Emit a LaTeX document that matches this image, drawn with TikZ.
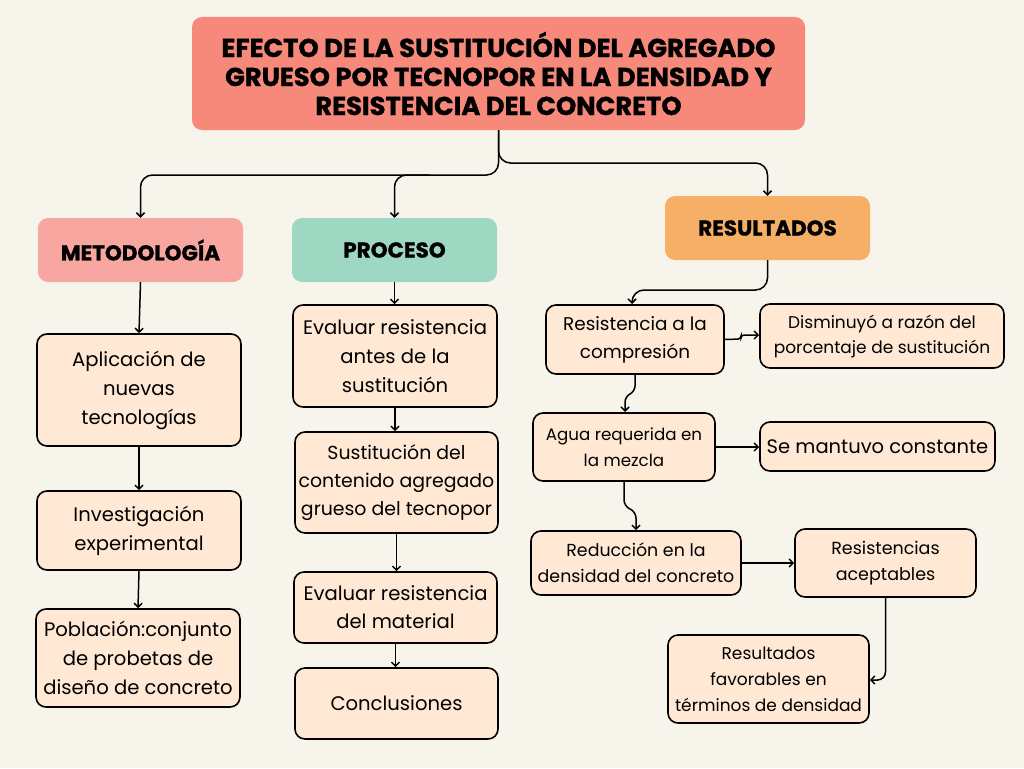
\documentclass[tikz,border=0pt]{standalone}
\usepackage{fontspec}
\setmainfont{Poppins}
\newfontfamily\heavyfont{Poppins}[BoldFeatures={FakeBold=1.2}]
\usetikzlibrary{arrows.meta}
\definecolor{bg}{HTML}{F7F4EC}
\definecolor{titlec}{HTML}{F6897A}
\definecolor{metc}{HTML}{F7A6A0}
\definecolor{proc}{HTML}{9ED8C3}
\definecolor{resc}{HTML}{F6AF67}
\definecolor{boxc}{HTML}{FFE8D4}
\tikzset{
  box/.style={draw=black, line width=1.6pt, fill=boxc, rounded corners=10pt, align=center, inner sep=1pt, font=\fontsize{19.6}{29}\selectfont},
  head/.style={rounded corners=10pt, align=center, font=\fontsize{21.5}{24}\selectfont\heavyfont\bfseries},
  arr/.style={line width=1.5pt, -{Straight Barb[length=4pt,width=8pt]}, rounded corners=12pt},
}
\begin{document}
\begin{tikzpicture}[x=1pt,y=-1pt]
\fill[bg] (0,0) rectangle (1024,768);
\useasboundingbox (0,0) rectangle (1024,768);
% title
\node[head, fill=titlec, minimum width=613, minimum height=113, font=\fontsize{25.8}{29}\selectfont\heavyfont\bfseries] (title) at (498.5,73.5)
  {EFECTO DE LA SUSTITUCIÓN DEL AGREGADO\\GRUESO POR TECNOPOR EN LA DENSIDAD Y\\RESISTENCIA DEL CONCRETO};
\node[head, fill=metc, minimum width=205, minimum height=64] (met) at (140.5,250) {METODOLOGÍA};
\node[head, fill=proc, minimum width=205, minimum height=64] (pro) at (394.5,250) {PROCESO};
\node[head, fill=resc, minimum width=205, minimum height=64] (res) at (767.5,228) {RESULTADOS};
% left column
\node[box, minimum width=204, minimum height=112] (apl) at (139,390) {Aplicación de\\nuevas\\tecnologías};
\node[box, minimum width=204, minimum height=79] (inv) at (139,530.5) {Investigación\\experimental};
\node[box, minimum width=204, minimum height=98] (pob) at (138,658) {Población:conjunto\\de probetas de\\diseño de concreto};
% middle column
\node[box, minimum width=204, minimum height=102] (ev1) at (395,356) {Evaluar resistencia\\antes de la\\sustitución};
\node[box, minimum width=203, minimum height=101, font=\fontsize{18.9}{28}\selectfont] (sus) at (396.5,482.5) {Sustitución del\\contenido agregado\\grueso del tecnopor};
\node[box, minimum width=203, minimum height=71, font=\fontsize{19.6}{28}\selectfont] (ev2) at (395.5,607.5) {Evaluar resistencia\\del material};
\node[box, minimum width=203, minimum height=71] (con) at (396.5,703.5) {Conclusiones};
% right
\node[box, minimum width=178, minimum height=69, font=\fontsize{18.4}{28}\selectfont] (rc) at (635,339.5) {Resistencia a la\\compresión};
\node[box, minimum width=244, minimum height=64, font=\fontsize{17}{25}\selectfont] (dis) at (882,336) {Disminuyó a razón del\\porcentaje de sustitución};
\node[box, minimum width=182, minimum height=68, font=\fontsize{16.7}{26}\selectfont] (agua) at (624,447) {Agua requerida en\\la mezcla};
\node[box, minimum width=235, minimum height=49, font=\fontsize{19.5}{26}\selectfont] (sem) at (877.5,446.5) {Se mantuvo constante};
\node[box, minimum width=210, minimum height=64, font=\fontsize{17.4}{26}\selectfont] (red) at (636,563) {Reducción en la\\densidad del concreto};
\node[box, minimum width=181, minimum height=68, font=\fontsize{17.5}{26}\selectfont] (acep) at (885.5,563) {Resistencias\\aceptables};
\node[box, minimum width=201, minimum height=88, font=\fontsize{17}{26}\selectfont] (fav) at (768.5,679) {Resultados\\favorables en\\términos de densidad};
% top connectors
\draw[arr] (title.south) -- (title.south |- 0,175) -- (met.north |- 0,175) -- (met.north);
\draw[arr] (430,175) -- (pro.north |- 0,175) -- (pro.north);
\draw[arr] (title.south) -- (title.south |- 0,163) -- (res.north |- 0,163) -- (res.north);
% left column
\draw[arr] (met.south) -- (apl.north);
\draw[arr] (apl.south) -- (inv.north);
\draw[arr] (inv.south) -- (pob.north);
% middle
\draw[arr] (pro.south) -- (pro.south |- ev1.north);
\draw[arr] (ev1.south) -- (ev1.south |- sus.north);
\draw[arr] (sus.south) -- (sus.south |- ev2.north);
\draw[arr] (ev2.south) -- (ev2.south |- con.north);
% right
\draw[arr] (res.south) -- (res.south |- 0,290) -- (632,290) -- (632,304);
\draw[arr, rounded corners=3pt] (rc.east) -- (741,339) -- (741,335) -- (dis.west |- 0,335);
\draw[arr, rounded corners=6pt] (rc.south) -- (635,392) -- (625,396) -- (625,412);
\draw[arr] (agua.east) -- (sem.west |- agua.east);
\draw[arr, rounded corners=6pt] (agua.south) -- (624,506) -- (636,512) -- (red.north);
\draw[arr] (red.east) -- (acep.west |- red.east);
\draw[arr, rounded corners=8pt] (acep.south) -- (acep.south |- 0,680) -- (fav.east |- 0,680);
\end{tikzpicture}
\end{document}
